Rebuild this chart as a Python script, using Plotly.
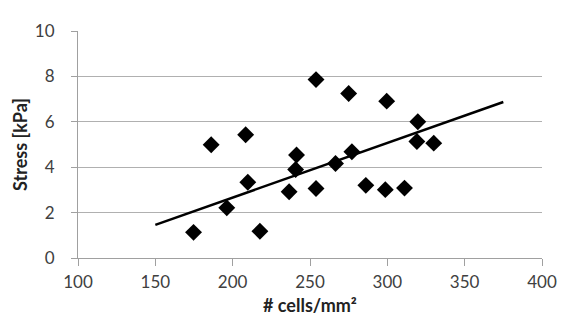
import plotly.graph_objects as go

cells = [253.9, 186.1, 208.4, 241.3, 240.7, 209.8, 236.5, 253.9, 196.2, 174.7, 217.6,
         275.0, 299.6, 319.7, 319.1, 330.0, 277.1, 266.5, 286.1, 298.7, 311.1]
stress = [7.86, 4.99, 5.43, 4.54, 3.90, 3.34, 2.92, 3.06, 2.21, 1.13, 1.18,
          7.25, 6.91, 6.00, 5.13, 5.06, 4.68, 4.16, 3.20, 3.01, 3.08]

trend_x = [150, 375]
trend_y = [1.46, 6.87]

x_ticks = [100, 150, 200, 250, 300, 350, 400]
y_ticks = [0, 2, 4, 6, 8, 10]

font_family = "Lato, 'Open Sans', sans-serif"

fig = go.Figure()
fig.add_trace(go.Scatter(x=cells, y=stress, mode="markers",
                         marker=dict(symbol="diamond", size=13, color="black"),
                         showlegend=False))
fig.add_trace(go.Scatter(x=trend_x, y=trend_y, mode="lines",
                         line=dict(color="black", width=2.5), showlegend=False))

# the page body has an 8px margin, so the figure is sized to fit inside the window
fig.update_layout(
    width=561, height=312,
    margin=dict(l=66, r=20, t=13, b=62),
    paper_bgcolor="white", plot_bgcolor="white",
    font=dict(family=font_family, color="#404040", size=17),
)
fig.update_xaxes(range=[100, 400], tickvals=x_ticks, ticktext=[str(v) for v in x_ticks],
                 showgrid=False, zeroline=False, showline=True,
                 linecolor="#a0a0a0", linewidth=1,
                 ticks="outside", ticklen=7, tickcolor="#a0a0a0",
                 ticklabelstandoff=2,
                 tickfont=dict(size=17, color="#404040"))
fig.update_yaxes(range=[0, 10], tickvals=y_ticks, ticktext=[str(v) for v in y_ticks],
                 showgrid=True, gridcolor="#b0b0b0", gridwidth=1,
                 zeroline=False, showline=True, linecolor="#a0a0a0", linewidth=1,
                 ticks="outside", ticklen=6, tickcolor="#a0a0a0",
                 ticklabelstandoff=13,
                 title=dict(text="<b>Stress [kPa]</b>", standoff=2,
                            font=dict(size=18, color="#222222")),
                 tickfont=dict(size=17, color="#404040"))
fig.add_annotation(text="<b># cells/mm²</b>", xref="paper", yref="paper",
                   x=0.5, y=-0.205, xanchor="center", yanchor="middle",
                   showarrow=False, font=dict(size=18, color="#222222"))

fig.write_html("out.html")
